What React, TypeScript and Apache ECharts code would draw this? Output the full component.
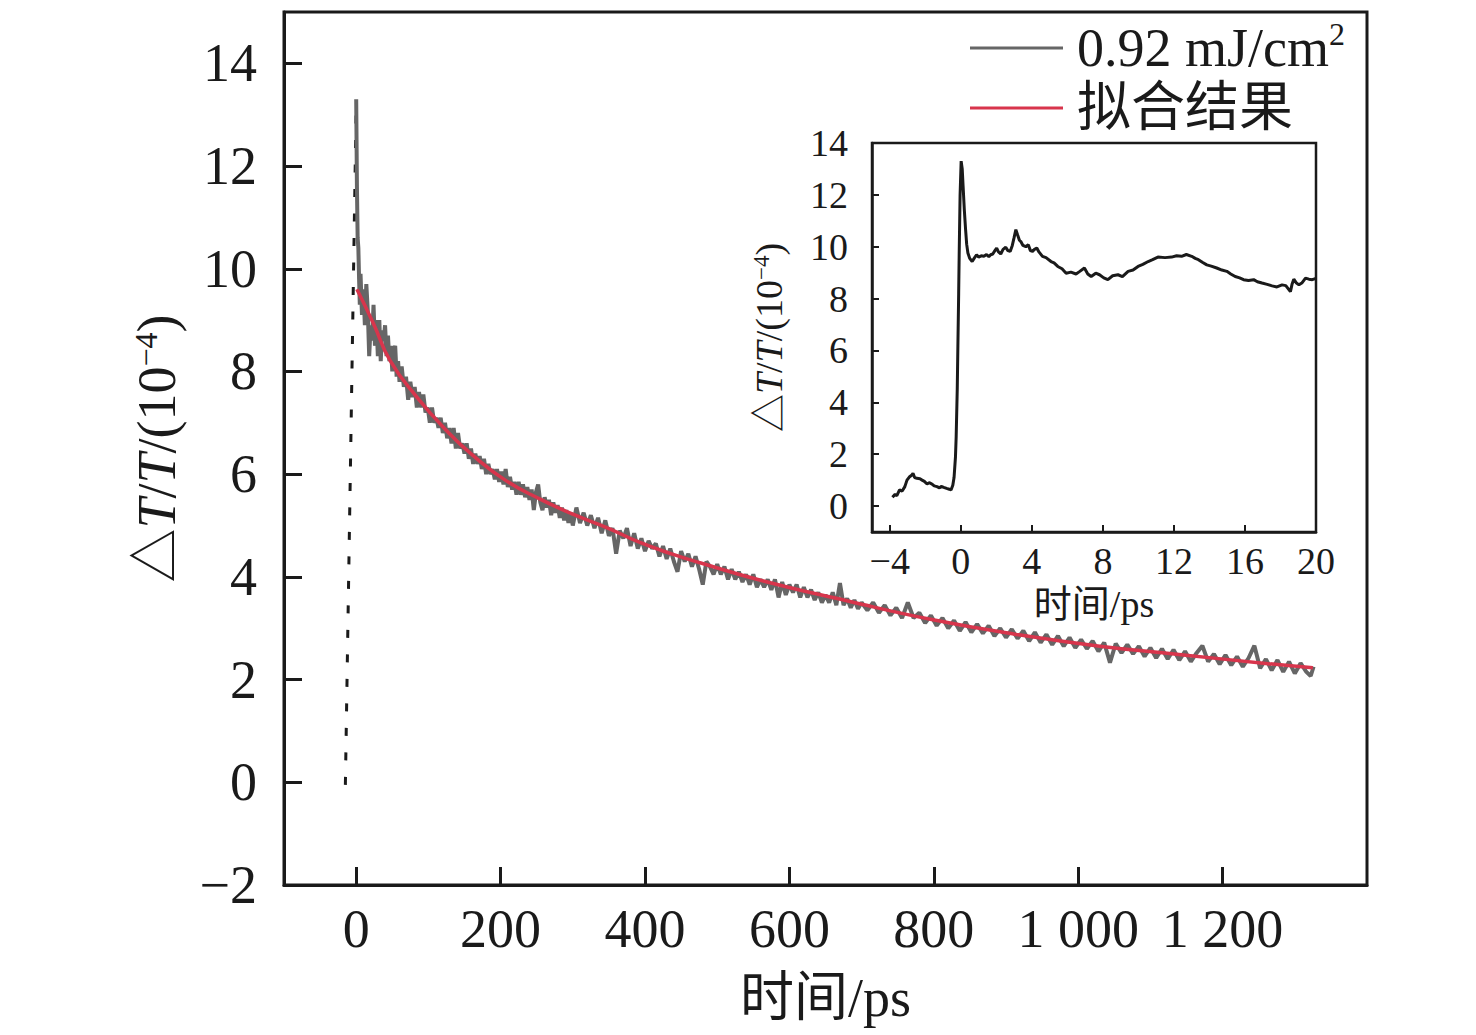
import React, { useEffect, useRef } from "react";
import * as echarts from "echarts";

// ---- Data ----
const mainXTicks = [0, 200, 400, 600, 800, 1000, 1200];
const mainYTicks = [-2, 0, 2, 4, 6, 8, 10, 12, 14];
const insetXTicks = [-4, 0, 4, 8, 12, 16, 20];
const insetYTicks = [0, 2, 4, 6, 8, 10, 12, 14];

const seriesMeasuredName = "0.92 mJ/cm2";
const seriesFitName = "拟合结果";

// measured trace (t in ps, value in 1e-4)
const measured: number[][] = [
  [0, 13.3], [1, 11.6], [2, 10.6], [3, 10.4], [4, 9.8], [5, 9.3], [6, 9.9], [8, 9.1], [10, 9.6], [12, 8.9],
  [14, 9.7], [16, 9.2], [18, 8.3], [20, 8.9], [22, 8.6], [24, 9.3], [26, 8.5], [28, 9.0], [30, 8.3], [32, 9.0],
  [34, 8.2], [36, 8.8], [38, 8.6], [40, 8.9], [42, 8.3], [44, 8.7], [46, 8.2], [48, 8.5], [50, 8.0], [52, 8.4],
  [54, 8.5], [56, 7.9], [58, 8.2], [60, 7.8], [63, 8.1], [66, 7.7], [69, 7.9], [72, 7.45], [75, 7.8], [78, 7.5],
  [81, 7.7], [84, 7.3], [87, 7.6], [90, 7.3], [93, 7.55], [96, 7.2], [99, 7.3], [102, 7.0], [105, 7.3], [108, 7.0],
  [111, 7.1], [114, 6.9], [117, 7.1], [120, 6.8], [123, 7.0], [126, 6.7], [129, 6.9], [132, 6.6], [135, 6.9], [138, 6.5],
  [141, 6.8], [144, 6.5], [147, 6.6], [150, 6.4], [153, 6.6], [156, 6.3], [159, 6.5], [162, 6.2], [165, 6.4], [168, 6.2],
  [171, 6.35], [174, 6.1], [177, 6.3], [180, 6.0], [183, 6.2], [186, 6.0], [189, 6.1], [192, 5.9], [195, 6.1], [198, 5.85],
  [201, 6.05], [204, 5.8], [207, 6.1], [210, 5.75], [213, 5.95], [216, 5.7], [219, 5.85], [222, 5.6], [225, 5.85], [228, 5.6],
  [231, 5.8], [234, 5.55], [237, 5.75], [240, 5.5], [243, 5.7], [246, 5.3], [249, 5.65], [252, 5.8], [255, 5.45], [258, 5.3],
  [261, 5.55], [264, 5.35], [267, 5.5], [270, 5.2], [273, 5.45], [276, 5.25], [279, 5.4], [282, 5.15], [285, 5.35], [288, 5.1],
  [291, 5.3], [294, 5.05], [297, 5.25], [300, 5.0], [305, 5.35], [310, 5.05], [315, 5.25], [320, 5.0], [325, 5.2], [330, 4.95],
  [335, 5.15], [340, 4.85], [345, 5.1], [350, 4.8], [355, 4.95], [360, 4.45], [365, 4.9], [370, 4.75], [375, 4.95], [380, 4.6],
  [385, 4.85], [390, 4.55], [395, 4.75], [400, 4.5], [405, 4.7], [410, 4.55], [415, 4.65], [420, 4.4], [425, 4.6], [430, 4.35],
  [435, 4.55], [440, 4.3], [445, 4.1], [450, 4.5], [455, 4.3], [460, 4.45], [465, 4.2], [470, 4.4], [475, 4.15], [480, 3.85],
  [485, 4.3], [490, 4.2], [495, 4.05], [500, 4.25], [505, 4.05], [510, 4.2], [515, 3.95], [520, 4.15], [525, 3.95], [530, 4.1],
  [535, 3.9], [540, 4.05], [545, 3.85], [550, 4.05], [555, 3.8], [560, 3.95], [565, 3.8], [570, 3.95], [575, 3.75], [580, 3.95],
  [585, 3.6], [590, 3.9], [595, 3.65], [600, 3.85], [605, 3.7], [610, 3.85], [615, 3.6], [620, 3.8], [625, 3.6], [630, 3.75],
  [635, 3.55], [640, 3.7], [645, 3.5], [650, 3.65], [655, 3.5], [660, 3.7], [665, 3.45], [670, 3.88], [675, 3.45], [680, 3.58],
  [685, 3.4], [690, 3.55], [695, 3.38], [700, 3.5], [708, 3.35], [716, 3.5], [724, 3.3], [732, 3.45], [740, 3.25], [748, 3.4],
  [756, 3.2], [764, 3.5], [772, 3.2], [780, 3.3], [788, 3.1], [796, 3.25], [804, 3.05], [812, 3.2], [820, 3.0], [828, 3.15],
  [836, 2.95], [844, 3.12], [852, 2.92], [860, 3.08], [868, 2.9], [876, 3.05], [884, 2.85], [892, 3.0], [900, 2.82], [908, 2.98],
  [916, 2.8], [924, 2.95], [932, 2.75], [940, 2.92], [948, 2.72], [956, 2.88], [964, 2.68], [972, 2.85], [980, 2.65], [988, 2.82],
  [996, 2.62], [1004, 2.78], [1012, 2.6], [1020, 2.75], [1028, 2.55], [1036, 2.72], [1044, 2.33], [1052, 2.7], [1060, 2.52], [1068, 2.68],
  [1076, 2.5], [1084, 2.65], [1092, 2.45], [1100, 2.62], [1108, 2.42], [1116, 2.6], [1124, 2.4], [1132, 2.58], [1140, 2.38], [1148, 2.55],
  [1156, 2.35], [1164, 2.52], [1172, 2.66], [1180, 2.35], [1188, 2.5], [1196, 2.3], [1204, 2.48], [1212, 2.28], [1220, 2.45], [1228, 2.25],
  [1236, 2.42], [1244, 2.66], [1252, 2.22], [1260, 2.4], [1268, 2.18], [1276, 2.38], [1284, 2.15], [1292, 2.35], [1300, 2.12], [1308, 2.32],
  [1316, 2.15], [1322, 2.07], [1326, 2.25],
];

// fitted curve
const fitT = [1, 24, 47, 84, 125, 162, 208, 254, 300, 347, 393, 439, 475, 564, 681, 797, 914, 1030, 1146, 1263, 1325];
const fitV = [9.6, 8.93, 8.21, 7.5, 6.85, 6.36, 5.87, 5.52, 5.22, 4.96, 4.67, 4.44, 4.28, 3.92, 3.53, 3.17, 2.88, 2.65, 2.48, 2.31, 2.23];

// dotted guide line (rising edge)
const edgeT = [-15, 0];
const edgeV = [-0.05, 13.2];

// inset trace (-5..20 ps)
const inset: number[][] = [
  [-3.85, 0.34], [-3.7, 0.45], [-3.6, 0.4], [-3.45, 0.62], [-3.3, 0.58], [-3.15, 0.75], [-3.03, 1.0], [-2.9, 1.12], [-2.75, 1.2], [-2.69, 1.26],
  [-2.6, 1.1], [-2.47, 1.07], [-2.3, 1.05], [-2.18, 1.0], [-2.05, 0.95], [-1.9, 0.85], [-1.78, 0.9], [-1.62, 0.85], [-1.5, 0.78], [-1.34, 0.75],
  [-1.2, 0.7], [-1.1, 0.76], [-0.96, 0.72], [-0.8, 0.68], [-0.65, 0.65], [-0.55, 0.62], [-0.45, 0.8], [-0.38, 1.1], [-0.3, 1.9], [-0.26, 2.68],
  [-0.2, 4.5], [-0.17, 5.9], [-0.12, 8.2], [-0.09, 9.76], [-0.04, 12.0], [0.02, 13.3], [0.08, 13.0], [0.13, 12.33], [0.2, 11.4], [0.27, 10.66],
  [0.33, 10.1], [0.4, 9.76], [0.5, 9.55], [0.64, 9.43], [0.75, 9.55], [0.89, 9.69], [1.0, 9.6], [1.15, 9.65], [1.3, 9.63], [1.45, 9.7],
  [1.58, 9.62], [1.68, 9.69], [1.8, 9.72], [1.92, 9.85], [2.02, 9.95], [2.12, 9.8], [2.25, 9.72], [2.38, 9.9], [2.53, 9.98], [2.65, 9.85],
  [2.78, 9.82], [2.9, 10.05], [3.0, 10.35], [3.1, 10.66], [3.2, 10.45], [3.3, 10.25], [3.38, 10.2], [3.5, 10.05], [3.66, 10.0], [3.8, 10.08],
  [3.92, 9.85], [4.04, 9.82], [4.15, 9.9], [4.28, 9.95], [4.4, 9.8], [4.6, 9.63], [4.8, 9.58], [5.08, 9.43], [5.25, 9.38], [5.46, 9.24],
  [5.7, 9.15], [5.93, 8.98], [6.2, 9.02], [6.49, 8.95], [6.7, 9.05], [6.96, 9.18], [7.15, 8.95], [7.34, 8.85], [7.6, 8.98], [7.81, 8.92],
  [8.05, 8.8], [8.28, 8.73], [8.55, 8.88], [8.85, 8.92], [9.1, 8.85], [9.42, 9.05], [9.7, 9.1], [9.98, 9.24], [10.25, 9.32], [10.55, 9.43],
  [10.8, 9.5], [11.1, 9.6], [11.5, 9.58], [11.87, 9.6], [12.15, 9.65], [12.43, 9.63], [12.7, 9.7], [13.0, 9.63], [13.2, 9.55], [13.38, 9.5],
  [13.6, 9.4], [13.85, 9.3], [14.1, 9.25], [14.41, 9.18], [14.7, 9.1], [14.98, 9.05], [15.2, 8.95], [15.45, 8.85], [15.7, 8.8], [15.92, 8.73],
  [16.2, 8.7], [16.49, 8.73], [16.7, 8.65], [16.96, 8.6], [17.25, 8.55], [17.53, 8.49], [17.8, 8.45], [18.09, 8.53], [18.3, 8.5], [18.56, 8.27],
  [18.65, 8.55], [18.75, 8.75], [18.9, 8.6], [19.04, 8.53], [19.2, 8.6], [19.41, 8.79], [19.6, 8.75], [19.79, 8.73], [20.0, 8.78],
];

const FONT = "'Liberation Serif', 'Noto Sans CJK SC', serif";
const GREY = "#666666";
const RED = "#d8354c";
const INK = "#1a1a1a";

const fmtNum = (v: number) => {
  const s = Math.abs(v) >= 1000 ? String(Math.abs(v)).replace(/\B(?=(\d{3})+(?!\d))/g, " ") : String(Math.abs(v));
  return v < 0 ? "\u2212" + s : s;
};

export default function App() {
  const ref = useRef<HTMLDivElement>(null);

  useEffect(() => {
    if (!ref.current) return;
    const chart = echarts.init(ref.current, undefined, { renderer: "svg" });

    const yName = "\u25B3{i|T}/{i|T}/(10{sup|\u22124})";

    const option: any = {
      animation: false,
      backgroundColor: "#ffffff",
      textStyle: { fontFamily: FONT },
      legend: {
        left: 970,
        top: 18,
        padding: 0,
        orient: "vertical",
        itemWidth: 93,
        itemHeight: 3,
        itemGap: 0,
        icon: "rect",
        selectedMode: false,
        data: [seriesMeasuredName, seriesFitName],
        formatter: (name: string) => (name === seriesMeasuredName ? "0.92 mJ/cm{sup|2}" : name),
        textStyle: {
          fontFamily: FONT,
          fontSize: 54,
          color: INK,
          lineHeight: 60,
          padding: [0, 0, 0, 9],
          rich: {
            sup: { fontFamily: FONT, fontSize: 32, verticalAlign: "top", lineHeight: 60, color: INK },
          },
        },
      },
      grid: [
        {
          left: 284, top: 12, width: 1083, height: 873, show: true, borderColor: INK, borderWidth: 3,
          backgroundColor: "transparent", containLabel: false, outerBoundsMode: "none",
        },
        {
          left: 872, top: 143, width: 444, height: 389, show: true, borderColor: INK, borderWidth: 2.5,
          backgroundColor: "transparent", containLabel: false, outerBoundsMode: "none",
        },
      ],
      xAxis: [
        {
          gridIndex: 0,
          type: "value",
          min: -100,
          max: 1400,
          splitLine: { show: false },
          axisLine: { show: true, onZero: false, lineStyle: { color: INK, width: 3 } },
          axisTick: { show: true, inside: true, length: 18, lineStyle: { color: INK, width: 3 }, customValues: mainXTicks },
          axisLabel: { show: true, customValues: mainXTicks, margin: 17, fontSize: 54, fontFamily: FONT, color: INK, formatter: fmtNum },
          name: "时间/ps",
          nameLocation: "middle",
          nameGap: 86,
          nameTextStyle: { fontSize: 54, fontFamily: FONT, color: INK },
        },
        {
          gridIndex: 1,
          type: "value",
          min: -5,
          max: 20,
          splitLine: { show: false },
          axisLine: { show: true, onZero: false, lineStyle: { color: INK, width: 2.5 } },
          axisTick: { show: true, inside: true, length: 7, lineStyle: { color: INK, width: 2 }, customValues: insetXTicks },
          axisLabel: { show: true, customValues: insetXTicks, margin: 10, fontSize: 38, fontFamily: FONT, color: INK, formatter: fmtNum },
          name: "时间/ps",
          nameLocation: "middle",
          nameGap: 53,
          nameTextStyle: { fontSize: 38, fontFamily: FONT, color: INK },
        },
      ],
      yAxis: [
        {
          gridIndex: 0,
          type: "value",
          min: -2,
          max: 15,
          splitLine: { show: false },
          axisLine: { show: true, onZero: false, lineStyle: { color: INK, width: 3 } },
          axisTick: { show: true, inside: true, length: 18, lineStyle: { color: INK, width: 3 }, customValues: mainYTicks },
          axisLabel: { show: true, customValues: mainYTicks, margin: 27, fontSize: 54, fontFamily: FONT, color: INK, formatter: fmtNum },
          name: yName,
          nameLocation: "middle",
          nameRotate: 90,
          nameGap: 100,
          nameTextStyle: {
            fontSize: 54,
            fontFamily: FONT,
            color: INK,
            rich: {
              i: { fontSize: 54, fontFamily: FONT, fontStyle: "italic", color: INK },
              sup: { fontSize: 32, fontFamily: FONT, verticalAlign: "top", color: INK },
            },
          },
        },
        {
          gridIndex: 1,
          type: "value",
          min: -1,
          max: 14,
          splitLine: { show: false },
          axisLine: { show: true, onZero: false, lineStyle: { color: INK, width: 2.5 } },
          axisTick: { show: true, inside: true, length: 7, lineStyle: { color: INK, width: 2 }, customValues: insetYTicks },
          axisLabel: { show: true, customValues: insetYTicks, margin: 24, fontSize: 38, fontFamily: FONT, color: INK, formatter: fmtNum },
          name: yName,
          nameLocation: "middle",
          nameRotate: 90,
          nameGap: 84,
          nameTextStyle: {
            fontSize: 38,
            fontFamily: FONT,
            color: INK,
            rich: {
              i: { fontSize: 38, fontFamily: FONT, fontStyle: "italic", color: INK },
              sup: { fontSize: 23, fontFamily: FONT, verticalAlign: "top", color: INK },
            },
          },
        },
      ],
      series: [
        {
          name: seriesMeasuredName,
          type: "line",
          xAxisIndex: 0,
          yAxisIndex: 0,
          data: measured,
          showSymbol: false,
          symbol: "none",
          clip: true,
          itemStyle: { color: GREY },
          lineStyle: { color: GREY, width: 4 },
          z: 2,
        },
        {
          name: seriesFitName,
          type: "line",
          xAxisIndex: 0,
          yAxisIndex: 0,
          data: fitT.map((t, i) => [t, fitV[i]]),
          smooth: true,
          showSymbol: false,
          symbol: "none",
          clip: true,
          itemStyle: { color: RED },
          lineStyle: { color: RED, width: 3.5 },
          z: 3,
        },
        {
          name: "edge",
          type: "line",
          xAxisIndex: 0,
          yAxisIndex: 0,
          data: edgeT.map((t, i) => [t, edgeV[i]]),
          showSymbol: false,
          symbol: "none",
          itemStyle: { color: INK },
          lineStyle: { color: INK, width: 3, type: [8, 16.5] },
          z: 1,
        },
        {
          name: "inset",
          type: "line",
          xAxisIndex: 1,
          yAxisIndex: 1,
          data: inset,
          showSymbol: false,
          symbol: "none",
          clip: true,
          itemStyle: { color: INK },
          lineStyle: { color: INK, width: 3 },
          z: 2,
        },
      ],
    };

    chart.setOption(option);
    return () => chart.dispose();
  }, []);

  return (
    <div
      ref={ref}
      style={{ position: "fixed", left: 0, top: 0, width: 1476, height: 1035, background: "#fff" }}
    />
  );
}
